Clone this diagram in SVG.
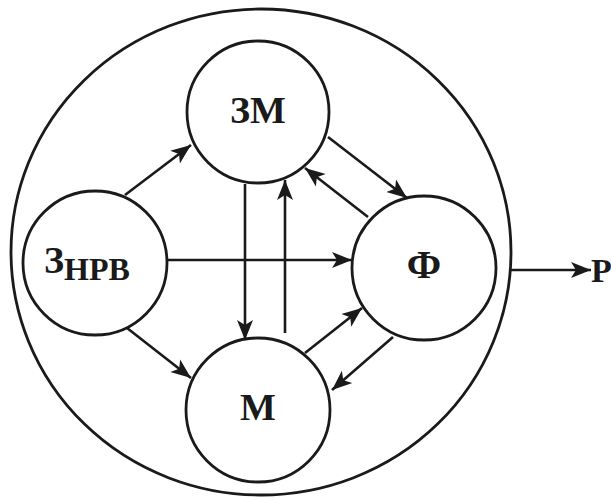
<svg xmlns="http://www.w3.org/2000/svg" width="611" height="500" viewBox="0 0 611 500">
<defs>
<style>
.c{fill:none;stroke:#1a1a1a;stroke-width:2.8}
.e{fill:none;stroke:#1a1a1a;stroke-width:2.6;marker-end:url(#ah)}
.t{font-family:"Liberation Serif","DejaVu Serif",serif;font-weight:bold;fill:#1a1a1a}
</style>
<marker id="ah" markerUnits="userSpaceOnUse" markerWidth="22" markerHeight="18" viewBox="0 0 22 18" refX="20" refY="9" orient="auto">
<path d="M0,1 L20,9 L0,17 L5,9 Z" fill="#1a1a1a"/>
</marker>
</defs>
<rect width="611" height="500" fill="#ffffff"/>
<g id="outer"><ellipse class="c" cx="261" cy="252" rx="250" ry="243"/></g>
<g id="connectors">
<line class="e" x1="125" y1="195" x2="191" y2="145"/>
<line class="e" x1="127" y1="328" x2="191" y2="378"/>
<line class="e" x1="167" y1="260" x2="352" y2="260"/>
<line class="e" x1="245" y1="184" x2="245" y2="340"/>
<line class="e" x1="285" y1="333" x2="285" y2="180"/>
<line class="e" x1="328" y1="137" x2="407" y2="198"/>
<line class="e" x1="368" y1="217" x2="305" y2="168"/>
<line class="e" x1="305" y1="353" x2="362" y2="308"/>
<line class="e" x1="393" y1="337" x2="332" y2="390"/>
<line class="e" x1="510" y1="270" x2="591" y2="270"/>
</g>
<g id="node-zm">
<circle class="c" cx="258" cy="112" r="71" fill="#fff"/>
<text class="t" x="258" y="123" font-size="38" text-anchor="middle">ЗМ</text>
</g>
<g id="node-znrv">
<circle class="c" cx="95" cy="263" r="72" fill="#fff"/>
<text class="t" x="44" y="273" font-size="38">З<tspan font-size="32" dy="7">НРВ</tspan></text>
</g>
<g id="node-f">
<circle class="c" cx="424" cy="268" r="72" fill="#fff"/>
<text class="t" x="424" y="278" font-size="40" text-anchor="middle">Ф</text>
</g>
<g id="node-m">
<circle class="c" cx="258" cy="410" r="72" fill="#fff"/>
<text class="t" x="258" y="420" font-size="38" text-anchor="middle">М</text>
</g>
<g id="node-r">
<text class="t" x="591" y="282" font-size="34">Р</text>
</g>
</svg>
